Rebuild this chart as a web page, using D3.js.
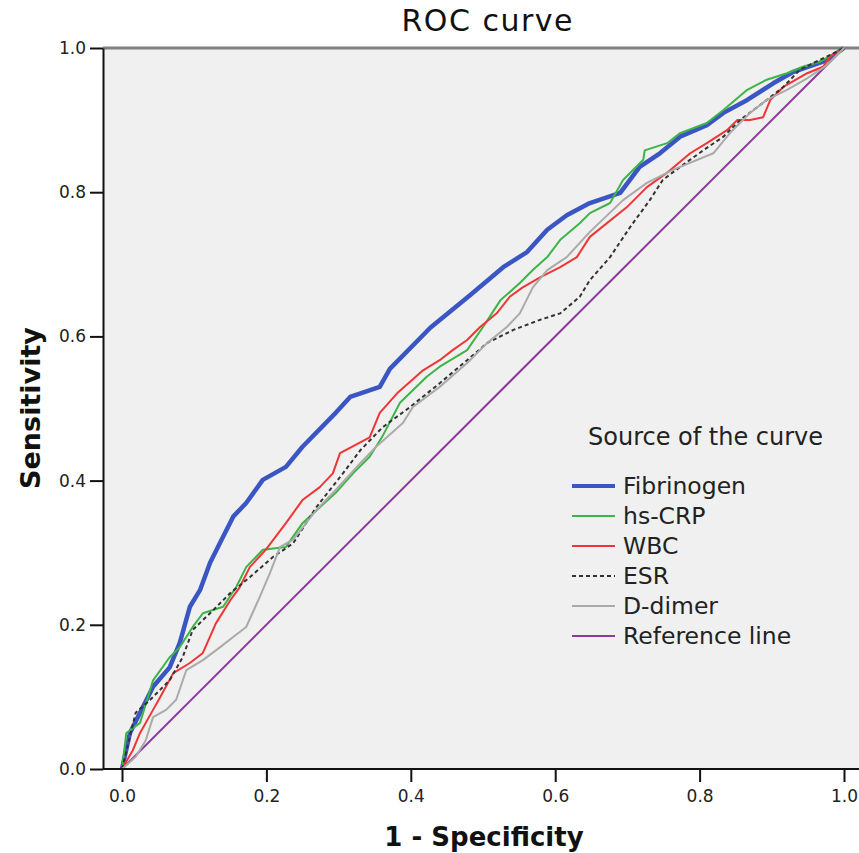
<!DOCTYPE html>
<html>
<head>
<meta charset="utf-8">
<script src="https://cdn.jsdelivr.net/npm/d3@7"></script>
<style>
  body { margin: 0; background: #fff; }
  text { font-family: "DejaVu Sans", Verdana, sans-serif; }
</style>
</head>
<body>
<div id="chart-area"></div>
<script>
// ROC points: [1 - specificity, sensitivity]
var fibrinogen = [[0,0],[0.011,0.05],[0.025,0.078],[0.043,0.114],[0.066,0.141],[0.08,0.175],[0.094,0.225],
    [0.108,0.248],[0.122,0.286],[0.14,0.322],[0.154,0.35],[0.172,0.369],[0.195,0.401],[0.227,0.419],[0.25,0.447],
    [0.296,0.494],[0.316,0.516],[0.357,0.53],[0.371,0.555],[0.427,0.612],[0.482,0.657],[0.528,0.696],[0.561,0.717],
    [0.589,0.748],[0.616,0.768],[0.648,0.785],[0.69,0.799],[0.717,0.835],[0.745,0.854],[0.773,0.877],[0.81,0.893],
    [0.833,0.91],[0.866,0.928],[0.902,0.951],[0.93,0.967],[0.976,0.983],[1,1]];

var hsCRP = [[0,0],[0.002,0.017],[0.006,0.05],[0.025,0.064],[0.043,0.123],[0.066,0.155],[0.08,0.169],[0.098,0.197],
    [0.112,0.216],[0.14,0.225],[0.158,0.252],[0.172,0.28],[0.195,0.304],[0.227,0.308],[0.25,0.341],[0.274,0.363],
    [0.296,0.383],[0.32,0.41],[0.343,0.433],[0.36,0.46],[0.385,0.508],[0.422,0.544],[0.44,0.558],[0.478,0.581],
    [0.5,0.613],[0.524,0.65],[0.551,0.674],[0.569,0.692],[0.589,0.71],[0.607,0.734],[0.634,0.757],[0.648,0.771],
    [0.676,0.785],[0.694,0.817],[0.722,0.845],[0.724,0.858],[0.755,0.868],[0.773,0.882],[0.81,0.896],[0.833,0.914],
    [0.866,0.942],[0.893,0.956],[0.921,0.965],[0.943,0.974],[0.967,0.981],[0.994,0.997],[1,1]];

var wbc = [[0,0],[0.015,0.026],[0.025,0.05],[0.043,0.082],[0.053,0.1],[0.071,0.133],[0.094,0.147],[0.112,0.161],
    [0.13,0.202],[0.15,0.234],[0.163,0.252],[0.177,0.28],[0.199,0.304],[0.227,0.341],[0.25,0.373],[0.274,0.391],
    [0.292,0.41],[0.302,0.438],[0.343,0.46],[0.357,0.494],[0.381,0.521],[0.417,0.553],[0.44,0.567],[0.458,0.581],
    [0.478,0.595],[0.496,0.613],[0.519,0.632],[0.537,0.655],[0.555,0.668],[0.579,0.682],[0.607,0.696],[0.63,0.71],
    [0.648,0.738],[0.699,0.779],[0.727,0.807],[0.755,0.827],[0.787,0.854],[0.81,0.868],[0.838,0.886],[0.852,0.9],
    [0.87,0.9],[0.888,0.904],[0.898,0.928],[0.916,0.946],[0.949,0.965],[0.971,0.974],[0.981,0.988],[1,1]];

var esr = [[0,0],[0.019,0.078],[0.039,0.096],[0.066,0.123],[0.084,0.155],[0.098,0.193],[0.126,0.22],[0.15,0.244],
    [0.177,0.266],[0.209,0.294],[0.237,0.313],[0.269,0.363],[0.306,0.41],[0.33,0.442],[0.361,0.474],[0.399,0.502],
    [0.44,0.535],[0.478,0.567],[0.506,0.591],[0.542,0.609],[0.579,0.623],[0.607,0.632],[0.634,0.655],[0.648,0.678],
    [0.676,0.71],[0.704,0.752],[0.731,0.789],[0.749,0.817],[0.773,0.835],[0.805,0.858],[0.833,0.877],[0.856,0.9],
    [0.888,0.924],[0.916,0.946],[0.939,0.97],[0.976,0.988],[1,1]];

var dDimer = [[0,0],[0.019,0.017],[0.033,0.04],[0.043,0.072],[0.061,0.082],[0.075,0.096],[0.089,0.137],[0.112,0.151],
    [0.136,0.169],[0.154,0.183],[0.172,0.197],[0.191,0.239],[0.205,0.272],[0.219,0.308],[0.237,0.318],[0.269,0.359],
    [0.296,0.387],[0.33,0.424],[0.352,0.447],[0.389,0.48],[0.403,0.502],[0.44,0.53],[0.478,0.563],[0.506,0.591],
    [0.533,0.613],[0.551,0.632],[0.569,0.668],[0.589,0.692],[0.616,0.71],[0.648,0.745],[0.694,0.789],[0.727,0.813],
    [0.763,0.831],[0.819,0.854],[0.842,0.882],[0.87,0.91],[0.893,0.928],[0.921,0.942],[0.949,0.958],[0.976,0.976],[1,1]];

var referenceLine = [[0,0],[1,1]];

var seriesNames = ["Fibrinogen", "hs-CRP", "WBC", "ESR", "D-dimer", "Reference line"];
var tickValues = [0, 0.2, 0.4, 0.6, 0.8, 1.0];

var series = [
    {name: "Reference line", data: referenceLine, color: "#8b3a9c", width: 2, dash: null},
    {name: "Fibrinogen", data: fibrinogen, color: "#3a56c2", width: 4.5, dash: null},
    {name: "hs-CRP", data: hsCRP, color: "#3cb546", width: 2, dash: null},
    {name: "WBC", data: wbc, color: "#f03535", width: 2, dash: null},
    {name: "ESR", data: esr, color: "#333333", width: 2, dash: "4,3"},
    {name: "D-dimer", data: dDimer, color: "#aaaaaa", width: 2, dash: null}
];

var width = 859, height = 853;

var x = d3.scaleLinear().domain([0, 1]).range([122, 844]);
var y = d3.scaleLinear().domain([0, 1]).range([769, 48]);

var svg = d3.select("#chart-area")
  .append("svg")
    .attr("width", width)
    .attr("height", height);

// plot background
svg.append("rect")
    .attr("x", 103).attr("y", 48)
    .attr("width", width - 103).attr("height", 769 - 48)
    .attr("fill", "#f0f0f0");

svg.append("line")
    .attr("x1", 103).attr("x2", width)
    .attr("y1", 48).attr("y2", 48)
    .attr("stroke", "#808080").attr("stroke-width", 3);

var line = d3.line()
    .x((d) => { return x(d[0]); })
    .y((d) => { return y(d[1]); });

svg.selectAll("path.curve")
    .data(series)
    .enter()
    .append("path")
        .attr("class", "curve")
        .attr("d", (d) => { return line(d.data); })
        .attr("fill", "none")
        .attr("stroke", (d) => { return d.color; })
        .attr("stroke-width", (d) => { return d.width; })
        .attr("stroke-dasharray", (d) => { return d.dash; })
        .attr("stroke-linejoin", "round");

// axes
var xAxisGroup = svg.append("g")
    .attr("transform", "translate(0, 769)")
    .call(d3.axisBottom(x).tickValues(tickValues).tickSize(13).tickSizeOuter(0)
        .tickFormat(d3.format(".1f")));
xAxisGroup.select(".domain").remove();
xAxisGroup.selectAll("line").attr("stroke", "#111").attr("stroke-width", 2);
xAxisGroup.selectAll("text")
    .attr("y", 33).attr("dy", null)
    .attr("font-size", "17px").attr("fill", "#222")
    .attr("font-family", "DejaVu Sans");

svg.append("line")
    .attr("x1", 103).attr("x2", width)
    .attr("y1", 769).attr("y2", 769)
    .attr("stroke", "#111").attr("stroke-width", 2);

var yAxisGroup = svg.append("g")
    .attr("transform", "translate(103, 0)")
    .call(d3.axisLeft(y).tickValues(tickValues).tickSize(13).tickSizeOuter(0).tickPadding(4)
        .tickFormat(d3.format(".1f")));
yAxisGroup.select(".domain").attr("stroke", "#111").attr("stroke-width", 2);
yAxisGroup.selectAll("line").attr("stroke", "#111").attr("stroke-width", 2);
yAxisGroup.selectAll("text")
    .attr("font-size", "17px").attr("fill", "#222")
    .attr("font-family", "DejaVu Sans");

// titles
svg.append("text")
    .attr("x", 487).attr("y", 31)
    .attr("text-anchor", "middle")
    .attr("font-size", "30px")
    .attr("textLength", 171)
    .attr("lengthAdjust", "spacing")
    .attr("fill", "#111")
    .text("ROC curve");

svg.append("text")
    .attr("x", 484).attr("y", 846)
    .attr("text-anchor", "middle")
    .attr("font-size", "26px")
    .attr("font-weight", "bold")
    .attr("fill", "#111")
    .text("1 - Specificity");

svg.append("text")
    .attr("transform", "translate(40, 408) rotate(-90)")
    .attr("text-anchor", "middle")
    .attr("font-size", "27px")
    .attr("font-weight", "bold")
    .attr("fill", "#111")
    .text("Sensitivity");

// legend
var legend = svg.append("g");
legend.append("text")
    .attr("x", 588).attr("y", 445)
    .attr("font-size", "24px")
    .attr("fill", "#222")
    .text("Source of the curve");

var items = legend.selectAll("g.item")
    .data(seriesNames.map((n) => { return series.find((s) => { return s.name === n; }); }))
    .enter()
    .append("g")
        .attr("class", "item")
        .attr("transform", (d, i) => { return "translate(0, " + (486 + i * 30) + ")"; });

items.append("line")
    .attr("x1", 572).attr("x2", 615)
    .attr("stroke", (d) => { return d.color; })
    .attr("stroke-width", (d) => { return d.width > 3 ? 4 : 2; })
    .attr("stroke-dasharray", (d) => { return d.dash; });

items.append("text")
    .attr("x", 623).attr("dy", "0.36em")
    .attr("font-size", "23.5px")
    .attr("fill", "#222")
    .text((d) => { return d.name; });
</script>
</body>
</html>
